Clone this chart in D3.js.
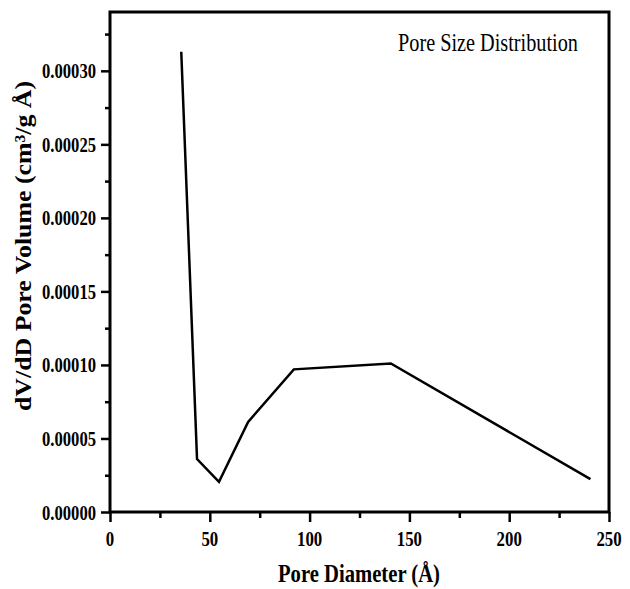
<!DOCTYPE html>
<html>
<head>
<meta charset="utf-8">
<script src="https://cdn.jsdelivr.net/npm/d3@7"></script>
<style>
  body { margin: 0; background: #fff; }
  svg { display: block; }
</style>
</head>
<body>
<div id="chart"></div>
<script>
// Data
var poreDiameter = [35.7, 43.6, 54.6, 69.2, 92.1, 140.7, 240.7];
var poreVolume = [0.000313, 0.000036, 0.0000205, 0.0000613, 0.000097, 0.000101, 0.0000224];
var xTicks = [0, 50, 100, 150, 200, 250];
var yTicks = [0, 0.00005, 0.0001, 0.00015, 0.0002, 0.00025, 0.0003];

var width = 630, height = 589;
var plotLeft = 110, plotRight = 609, plotTop = 12, plotBottom = 512;

var svg = d3.select("#chart").append("svg")
  .attr("width", width)
  .attr("height", height);

var x = d3.scaleLinear().domain([0, 250]).range([plotLeft, plotRight]);
var y = d3.scaleLinear().domain([0, 0.00034]).range([plotBottom, plotTop]);

var serif = "Liberation Serif, Times New Roman, serif";

// x axis ticks (major + minor)
var xAxis = d3.axisBottom(x).tickValues(xTicks).tickSize(10).tickFormat("");
var xMinor = d3.axisBottom(x).tickValues(d3.range(25, 250, 50)).tickSize(6).tickFormat("");
[xAxis, xMinor].forEach(function(ax) {
  svg.append("g")
    .attr("transform", `translate(0,${plotBottom})`)
    .call(ax)
    .call(g => g.select(".domain").remove())
    .call(g => g.selectAll("line").attr("stroke", "#000").attr("stroke-width", 2.5));
});

// y axis ticks (major + minor)
var yAxis = d3.axisLeft(y).tickValues(yTicks).tickSize(9).tickFormat("");
var yMinor = d3.axisLeft(y).tickValues(d3.range(0.000025, 0.00034, 0.00005)).tickSize(5).tickFormat("");
[yAxis, yMinor].forEach(function(ax) {
  svg.append("g")
    .attr("transform", `translate(${plotLeft},0)`)
    .call(ax)
    .call(g => g.select(".domain").remove())
    .call(g => g.selectAll("line").attr("stroke", "#000").attr("stroke-width", 2.5));
});

// tick labels
svg.append("g")
  .selectAll("text")
  .data(xTicks)
  .join("text")
  .attr("x", d => x(d))
  .attr("y", 546)
  .attr("text-anchor", "middle")
  .attr("font-family", serif)
  .attr("font-weight", "bold")
  .attr("font-size", 22)
  .attr("textLength", d => String(d).length * 8.4)
  .attr("lengthAdjust", "spacingAndGlyphs")
  .text(d => d);

svg.append("g")
  .selectAll("text")
  .data(yTicks)
  .join("text")
  .attr("x", 96)
  .attr("y", d => y(d) + 7.5)
  .attr("text-anchor", "end")
  .attr("font-family", serif)
  .attr("font-weight", "bold")
  .attr("font-size", 22)
  .attr("textLength", 54)
  .attr("lengthAdjust", "spacingAndGlyphs")
  .text(d => d3.format(".5f")(d));

// frame
svg.append("rect")
  .attr("x", plotLeft)
  .attr("y", plotTop)
  .attr("width", plotRight - plotLeft)
  .attr("height", plotBottom - plotTop)
  .attr("fill", "none")
  .attr("stroke", "#000")
  .attr("stroke-width", 3);

// data line
var line = d3.line()
  .x((d, i) => x(poreDiameter[i]))
  .y(d => y(d));

svg.append("path")
  .datum(poreVolume)
  .attr("fill", "none")
  .attr("stroke", "#000")
  .attr("stroke-width", 2.5)
  .attr("stroke-linejoin", "miter")
  .attr("d", line);

// legend text
svg.append("text")
  .attr("x", 398)
  .attr("y", 51)
  .attr("font-family", serif)
  .attr("font-size", 25)
  .attr("textLength", 180)
  .attr("lengthAdjust", "spacingAndGlyphs")
  .text("Pore Size Distribution");

// axis titles
svg.append("text")
  .attr("x", 359)
  .attr("y", 582)
  .attr("text-anchor", "middle")
  .attr("font-family", serif)
  .attr("font-weight", "bold")
  .attr("font-size", 25)
  .attr("textLength", 162)
  .attr("lengthAdjust", "spacingAndGlyphs")
  .text("Pore Diameter (Å)");

svg.append("text")
  .attr("transform", "translate(31,246) rotate(-90)")
  .attr("text-anchor", "middle")
  .attr("font-family", serif)
  .attr("font-weight", "bold")
  .attr("font-size", 23)
  .attr("textLength", 330)
  .attr("lengthAdjust", "spacingAndGlyphs")
  .text("dV/dD Pore Volume (cm³/g Å)");
</script>
</body>
</html>
